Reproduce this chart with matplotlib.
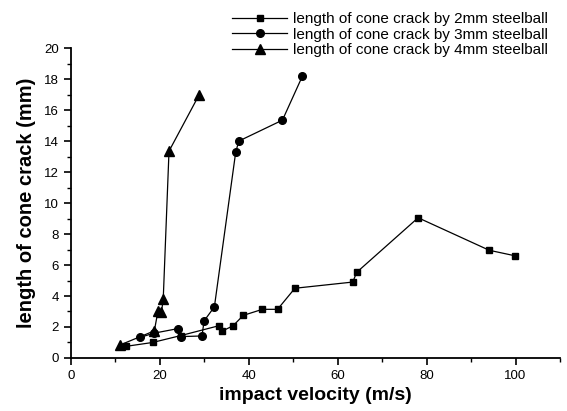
import matplotlib
matplotlib.use("Agg")
import matplotlib.pyplot as plt
from matplotlib.ticker import MultipleLocator

plt.rcParams["font.family"] = ["Liberation Sans", "DejaVu Sans"]

# 2mm steel ball
v_2mm = [12.4, 18.4, 24.8, 33.3, 34.1, 36.5, 38.8, 43.1, 46.5, 50.4, 63.4, 64.3, 78.1, 94.1, 99.8]
len_2mm = [0.75, 1.0, 1.45, 2.08, 1.74, 2.08, 2.75, 3.14, 3.14, 4.5, 4.9, 5.53, 9.05, 6.95, 6.6]

# 3mm steel ball
v_3mm = [15.6, 18.7, 24.2, 24.7, 29.5, 30.0, 32.3, 37.1, 37.8, 47.6, 52.1]
len_3mm = [1.33, 1.6, 1.9, 1.38, 1.42, 2.4, 3.3, 13.3, 14.0, 15.35, 18.2]

# 4mm steel ball
v_4mm = [11.1, 18.8, 19.6, 20.4, 20.8, 22.1, 28.9]
len_4mm = [0.84, 1.75, 3.0, 2.95, 3.8, 13.35, 17.0]

fig = plt.figure(figsize=(5.67, 4.11), dpi=100)
ax = fig.add_axes([0.1247, 0.129, 0.863, 0.754])

ax.plot(v_2mm, len_2mm, "k-", marker="s", markersize=5, lw=0.9,
        label="length of cone crack by 2mm steelball")
ax.plot(v_3mm, len_3mm, "k-", marker="o", markersize=5.5, lw=0.9,
        label="length of cone crack by 3mm steelball")
ax.plot(v_4mm, len_4mm, "k-", marker="^", markersize=6.5, lw=0.9,
        label="length of cone crack by 4mm steelball")

ax.set_xlim(0, 110)
ax.set_ylim(0, 20)
ax.xaxis.set_major_locator(MultipleLocator(20))
ax.xaxis.set_minor_locator(MultipleLocator(10))
ax.yaxis.set_major_locator(MultipleLocator(2))
ax.yaxis.set_minor_locator(MultipleLocator(1))

for side in ["top", "right"]:
    ax.spines[side].set_visible(False)
for side in ["left", "bottom"]:
    ax.spines[side].set_linewidth(1.3)

ax.tick_params(which="major", direction="out", length=5, width=1.2, labelsize=9.5)
ax.tick_params(which="minor", direction="out", length=3, width=1.0)

ax.set_xlabel("impact velocity (m/s)", fontsize=14, fontweight="bold", labelpad=4)
ax.set_ylabel("length of cone crack (mm)", fontsize=14.5, fontweight="bold", labelpad=6)

fig.legend(loc="upper left", bbox_to_anchor=(0.388, 1.0), frameon=False,
           fontsize=11, handlelength=3.6, numpoints=1, labelspacing=0.1,
           handletextpad=0.4, borderaxespad=0.4)

fig.savefig("out.png", dpi=100)
